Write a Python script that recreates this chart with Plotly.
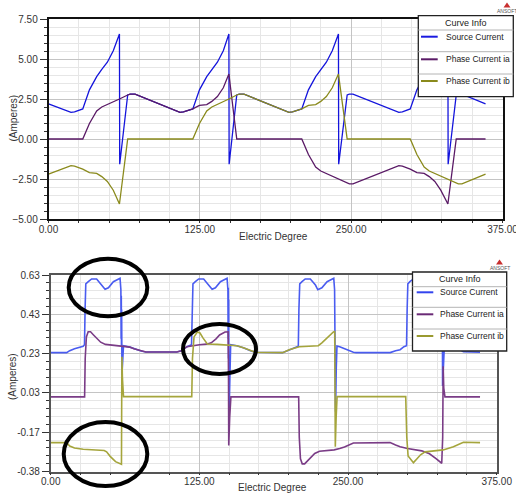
import plotly.graph_objects as go

W, H = 516, 494

# ---------------- data ----------------
# Top chart
top_src_x = [0, 18.6, 21.5, 28.3, 33.8, 39.8, 44, 48.6, 53.5, 58.6, 58.8, 65.4, 67.4, 71.5,
             108.6, 111.5, 119.2, 124.7, 130.7, 134.9, 139.5, 144.4, 149.0, 149.2, 155.5, 157.5, 161.5,
             198.6, 201.5, 209.2, 214.7, 220.7, 224.9, 229.5, 234.4, 239.5, 239.7, 246.7, 248.5, 251.5,
             289.4, 292.3, 298.8, 304.3, 310.3, 314.5, 319.1, 324.0, 329.9, 330.1, 336.8, 338.5, 341.5, 361]
top_src_y = [2.2, 1.67, 1.69, 1.88, 3.07, 3.9, 4.35, 4.8, 5.52, 6.56, -1.58, 2.75, 2.8, 2.8,
             1.67, 1.69, 1.88, 3.07, 3.9, 4.35, 4.8, 5.52, 6.56, -1.58, 2.75, 2.8, 2.8,
             1.67, 1.69, 1.88, 3.07, 3.9, 4.35, 4.8, 5.52, 6.56, -1.58, 2.75, 2.8, 2.8,
             1.67, 1.69, 1.88, 3.07, 3.9, 4.35, 4.8, 5.52, 6.56, -1.58, 2.75, 2.8, 2.8, 2.2]

top_ia_x = [0, 28.3, 33.8, 39.8, 44, 48.6, 53.5, 58.6, 65.4, 67.4, 71.5, 108.6, 111.5,
            119.2, 124.7, 130.7, 134.9, 139.5, 144.4, 149.0, 155.5, 209.2, 214.7, 220.7, 224.9,
            229.5, 234.4, 239.5, 246.7, 248.5, 251.5, 289.4, 292.3, 298.8, 304.3, 310.3, 314.5,
            319.1, 324.0, 329.9, 336.8, 361]
top_ia_y = [0, 0, 0.97, 1.75, 2.0, 2.15, 2.32, 2.5, 2.75, 2.8, 2.8, 1.67, 1.69,
            1.88, 2.1, 2.15, 2.35, 2.65, 3.2, 4.06, 0, 0, -0.97, -1.75, -2.0,
            -2.15, -2.32, -2.5, -2.75, -2.8, -2.8, -1.67, -1.69, -1.88, -2.1, -2.15, -2.35,
            -2.65, -3.2, -4.06, 0, 0]

top_ib_x = [0, 18.6, 21.5, 28.3, 33.8, 39.8, 44, 48.6, 53.5, 58.6, 65.4, 119.2, 124.7, 130.7,
            134.9, 139.5, 144.4, 149.0, 155.5, 157.5, 161.5, 198.6, 201.5, 209.2, 214.7, 220.7,
            224.9, 229.5, 234.4, 239.5, 246.7, 298.8, 304.3, 310.3, 314.5, 319.1, 324.0, 329.9,
            336.8, 338.5, 341.5, 361]
top_ib_y = [-2.2, -1.67, -1.69, -1.88, -2.1, -2.15, -2.35, -2.65, -3.2, -4.06, 0, 0, 0.97, 1.75,
            2.0, 2.15, 2.32, 2.5, 2.75, 2.8, 2.8, 1.67, 1.69, 1.88, 2.1, 2.15,
            2.35, 2.65, 3.2, 4.06, 0, 0, -0.97, -1.75, -2.0, -2.15, -2.32, -2.5,
            -2.75, -2.8, -2.8, -2.2]

# Bottom chart
bot_src_x = [0, 13.4, 16, 20, 27.3, 28.4, 28.9, 29.5, 31.6, 34.4, 38.6, 42.9, 45.7, 48.5, 52.7, 58.3,
             59.0, 59.2, 59.35, 59.5, 59.65, 59.9, 60.5, 61.2, 66.5, 70, 76, 80, 106, 110, 114.6, 118.4,
             118.9, 119.6, 121.6, 124.4, 128.6, 132.9, 135.7, 138.5, 142.7, 148.3,
             149.0, 149.2, 149.35, 149.5, 149.65, 149.85, 150.5, 151.3, 156.5, 162, 168, 172, 195, 200.5,
             205, 208.2, 208.7, 209.4, 211.3, 214, 218.3, 222.6, 224.6, 228, 232.4, 238.0,
             238.7, 238.9, 239.05, 239.2, 239.35, 239.5, 240.1, 240.7, 243, 247, 254.5, 256.8, 285.4,
             290, 293.8, 297, 299.2, 299.7, 300.3, 302, 305, 309, 313, 315.5, 318.5, 323, 328.3,
             328.7, 328.9, 329.05, 329.2, 329.35, 329.5, 330.2, 331, 340, 347, 361]
bot_src_y = [0.23, 0.23, 0.24, 0.25, 0.262, 0.27, 0.45, 0.58, 0.591, 0.605, 0.605, 0.574, 0.552, 0.56, 0.591, 0.608,
             0.55, 0.30, 0.52, 0.26, 0.45, 0.116, 0.2, 0.265, 0.258, 0.25, 0.238, 0.233, 0.233, 0.24, 0.26, 0.27,
             0.45, 0.58, 0.591, 0.605, 0.605, 0.574, 0.552, 0.56, 0.591, 0.608,
             0.55, 0.30, 0.56, 0.2, 0.5, -0.113, 0.1, 0.27, 0.265, 0.255, 0.24, 0.232, 0.23, 0.245,
             0.255, 0.262, 0.45, 0.58, 0.591, 0.605, 0.605, 0.574, 0.55, 0.56, 0.591, 0.608,
             0.55, 0.30, 0.52, 0.25, 0.45, -0.071, 0.15, 0.264, 0.26, 0.25, 0.232, 0.23, 0.23,
             0.24, 0.245, 0.26, 0.265, 0.45, 0.58, 0.591, 0.605, 0.605, 0.574, 0.55, 0.56, 0.591, 0.608,
             0.55, 0.30, 0.45, 0.25, 0.40, 0.06, 0.15, 0.265, 0.258, 0.235, 0.232]

bot_ia_x = [0, 28.5, 29.0, 30.0, 31.5, 33.5, 36, 38.6, 42, 46, 52, 58.3, 66.5, 70, 76, 80, 106, 110,
            114.6, 120, 125, 131, 135, 139, 142, 146.6, 149.2, 149.5, 149.7, 150.5, 151.5, 208.5,
            209.0, 210.0, 211.5, 213.5, 216, 218.6, 222, 226, 232, 238.3, 243, 247, 254.5, 285.4,
            290, 293.8, 300, 306.4, 312, 318.5, 321.8, 324, 328.8, 329.6, 330.0, 330.5, 331.5, 361]
bot_ia_y = [0.005, 0.005, 0.2, 0.31, 0.336, 0.336, 0.32, 0.302, 0.283, 0.272, 0.268, 0.265, 0.258, 0.25, 0.238, 0.233, 0.233, 0.24,
            0.26, 0.267, 0.27, 0.273, 0.28, 0.30, 0.32, 0.335, 0.336, 0.1, -0.243, -0.1, 0.005, 0.005,
            -0.2, -0.31, -0.336, -0.336, -0.32, -0.302, -0.283, -0.272, -0.268, -0.265, -0.258, -0.25, -0.23, -0.228,
            -0.24, -0.249, -0.258, -0.265, -0.27, -0.285, -0.298, -0.31, -0.333, -0.2, 0.16, 0.05, 0.005, 0.005]

bot_ib_x = [0, 13.4, 16, 20, 27.3, 35, 41.5, 45, 47, 50, 54.5, 58.8, 59.5, 59.7, 59.9, 60.3, 61.2,
            118.6, 119.2, 120.5, 123.3, 125.5, 128, 131.7, 140, 149.4, 156.5, 162, 168, 172, 195, 200.5,
            209, 218, 225, 228, 230.7, 234.3, 237.7, 238.8, 239.1, 239.3, 240.0, 240.8, 298.5, 299.4,
            300.5, 305, 308, 311, 314.8, 321.8, 330, 338.6, 347, 361]
bot_ib_y = [-0.228, -0.228, -0.245, -0.255, -0.262, -0.264, -0.265, -0.268, -0.275, -0.298, -0.325, -0.338, -0.338, 0.0, 0.209, 0.1, 0.006,
            0.006, 0.2, 0.31, 0.335, 0.33, 0.305, 0.274, 0.272, 0.27, 0.265, 0.255, 0.24, 0.232, 0.23, 0.245,
            0.26, 0.263, 0.265, 0.28, 0.295, 0.32, 0.335, 0.337, 0.0, -0.249, -0.1, 0.006, 0.006, -0.2,
            -0.296, -0.33, -0.31, -0.29, -0.275, -0.27, -0.265, -0.249, -0.226, -0.228]

series_names = ["Source Current", "Phase Current ia", "Phase Current ib"]
top_colors = ["#1414dc", "#5a1a66", "#8a8a1c"]
bot_colors = ["#4a5cf0", "#7a3c86", "#a5a53c"]

x_tickvals = [0, 125, 250, 375]
x_ticktext = ["0.00", "125.00", "250.00", "375.00"]
bot_y_tickvals = [-0.375, -0.175, 0.025, 0.225, 0.425, 0.625]
bot_y_ticktext = ["-0.38", "-0.17", "0.03", "0.23", "0.43", "0.63"]

for a, b in [(top_src_x, top_src_y), (top_ia_x, top_ia_y), (top_ib_x, top_ib_y),
             (bot_src_x, bot_src_y), (bot_ia_x, bot_ia_y), (bot_ib_x, bot_ib_y)]:
    assert len(a) == len(b), (len(a), len(b))

# ---------------- figure ----------------
def PX(p):
    return p / W

def PY(p):
    return 1 - p / H

FONT = "Liberation Sans, Arial, sans-serif"
fig = go.Figure()

top_data = [(top_src_x, top_src_y), (top_ia_x, top_ia_y), (top_ib_x, top_ib_y)]
bot_data = [(bot_src_x, bot_src_y), (bot_ia_x, bot_ia_y), (bot_ib_x, bot_ib_y)]
for (xs, ys), name, col in zip(top_data, series_names, top_colors):
    fig.add_trace(go.Scatter(x=xs, y=ys, mode="lines", name=name,
                             line=dict(color=col, width=1.3), xaxis="x", yaxis="y"))
for (xs, ys), name, col in zip(bot_data, series_names, bot_colors):
    fig.add_trace(go.Scatter(x=xs, y=ys, mode="lines", name=name,
                             line=dict(color=col, width=1.6), xaxis="x2", yaxis="y2"))

tickfont = dict(family=FONT, size=10, color="#333")

def xaxis_cfg(domain, anchor, linecolor):
    return dict(domain=domain, anchor=anchor, range=[-0.01, 375.01], tickmode="array",
                tickvals=x_tickvals, ticktext=x_ticktext, ticklabeloverflow="allow",
                showgrid=True, gridcolor="#c4c4c4", gridwidth=1,
                ticks="outside", ticklen=0, tickcolor="#333",
                minor=dict(tickmode="linear", tick0=0, dtick=25, showgrid=True, gridcolor="#e6e6e6",
                           ticks="outside", ticklen=2, tickcolor="#333"),
                showline=True, linecolor=linecolor, linewidth=1.5, mirror=True,
                zeroline=False, tickfont=tickfont, automargin=False)

fig.update_layout(
    width=W, height=H, margin=dict(l=0, r=0, t=0, b=0),
    paper_bgcolor="white", plot_bgcolor="white", showlegend=False,
    xaxis=xaxis_cfg([PX(48.5), PX(502.5)], "y", "#111"),
    yaxis=dict(domain=[PY(219), PY(19)], anchor="x", range=[-5, 7.5], tickmode="linear",
               tick0=0, dtick=2.5, tickformat=".2f", showgrid=True, gridcolor="#c4c4c4",
               ticks="outside", ticklen=7, tickcolor="#333", ticklabeloverflow="allow",
               minor=dict(tickmode="linear", tick0=0, dtick=0.5, showgrid=True, gridcolor="#e6e6e6",
                          ticks="outside", ticklen=3, tickcolor="#333"),
               showline=True, linecolor="#111", linewidth=1.5, mirror=True, zeroline=False,
               tickfont=tickfont, automargin=False),
    xaxis2=xaxis_cfg([PX(50.7), PX(496.7)], "y2", "#555"),
    yaxis2=dict(domain=[PY(471.5), PY(275)], anchor="x2", range=[-0.375, 0.625], tickmode="array",
                tickvals=bot_y_tickvals, ticktext=bot_y_ticktext, showgrid=True, gridcolor="#c4c4c4",
                ticks="outside", ticklen=7, tickcolor="#333", ticklabeloverflow="allow",
                minor=dict(tickmode="linear", tick0=-0.375, dtick=0.04, showgrid=True,
                           gridcolor="#e6e6e6", ticks="outside", ticklen=3, tickcolor="#333"),
                showline=True, linecolor="#555", linewidth=1.5, mirror=True, zeroline=False,
                tickfont=tickfont, automargin=False),
)

shapes = []
annotations = []

def text(t, xp, yp, size=10, color="#333", xanchor="center", angle=0):
    annotations.append(dict(text=t, x=PX(xp), y=PY(yp), xref="paper", yref="paper",
                            showarrow=False, xanchor=xanchor, yanchor="middle",
                            textangle=angle, font=dict(family=FONT, size=size, color=color)))

# axis titles
text("(Amperes)", 12.5, 118, angle=-90)
text("Electric Degree", 273, 236.5)
text("(Amperes)", 12, 377, angle=-90)
text("Electric Degree", 272, 487.5)

# custom legend boxes
def legend(x0, x1, y0, y1, title_y, dividers, rows, line_x0, line_x1, text_x, colors):
    shapes.append(dict(type="rect", xref="paper", yref="paper", x0=PX(x0), x1=PX(x1),
                       y0=PY(y1), y1=PY(y0), fillcolor="white",
                       line=dict(color="#222", width=1.3), layer="above"))
    for d in dividers:
        shapes.append(dict(type="line", xref="paper", yref="paper", x0=PX(x0), x1=PX(x1),
                           y0=PY(d), y1=PY(d), line=dict(color="#b4b4b4", width=1), layer="above"))
    text("Curve Info", (x0 + x1) / 2, title_y, size=9, color="#222")
    for ry, name, col in zip(rows, series_names, colors):
        shapes.append(dict(type="line", xref="paper", yref="paper", x0=PX(line_x0), x1=PX(line_x1),
                           y0=PY(ry), y1=PY(ry), line=dict(color=col, width=2), layer="above"))
        text(name, text_x, ry, size=8.5, color="#222", xanchor="left")

legend(418.3, 513.3, 15.7, 96.7, 23.3, [30, 51.7, 74], [36.7, 59.3, 81], 421, 437.7, 443.5,
       ["#1a1ae0", "#5a1a66", "#8a8a1c"])
legend(412.5, 506.7, 272, 351, 279, [286.7, 307.3, 329], [292.3, 314.3, 336], 416.7, 433.3, 438,
       ["#3344ee", "#6a2a76", "#9a9a30"])

# ANSOFT logos
def logo(cx, ty):
    shapes.append(dict(type="path", xref="paper", yref="paper",
                       path=f"M {PX(cx-3.5)},{PY(ty+5)} L {PX(cx+3.5)},{PY(ty+5)} L {PX(cx)},{PY(ty)} Z",
                       fillcolor="#c83030", line=dict(width=0), layer="above"))
    text("ANSOFT", cx, ty + 8, size=5, color="#555")

logo(507, 2.5)
logo(499.5, 259.5)

# ellipses (annotation marks on lower chart)
for (ex0, ex1, ey0, ey1) in [(68.7, 147.3, 258.7, 316.3), (183, 256, 324, 374), (63.7, 147.3, 422, 486)]:
    shapes.append(dict(type="circle", xref="paper", yref="paper", x0=PX(ex0), x1=PX(ex1),
                       y0=PY(ey1), y1=PY(ey0), line=dict(color="black", width=4), layer="above"))

fig.update_layout(shapes=shapes, annotations=annotations)
fig.write_html("out.html")
